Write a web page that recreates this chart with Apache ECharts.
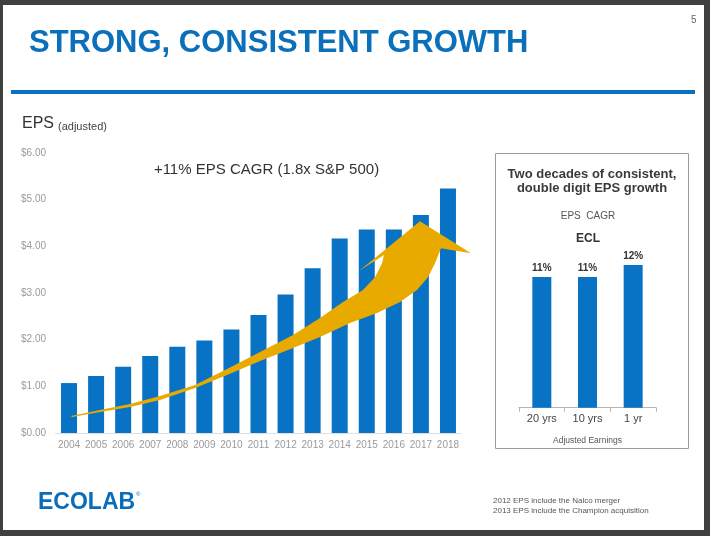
<!DOCTYPE html>
<html>
<head>
<meta charset="utf-8">
<script src="https://cdn.jsdelivr.net/npm/echarts@6/dist/echarts.min.js"></script>
<style>
  html, body { margin: 0; padding: 0; background: #3f4040; }
  #frame { position: absolute; left: 3px; top: 5px; width: 701px; height: 525px; background: #ffffff; }
  #chart { position: absolute; left: 0; top: 0; width: 710px; height: 536px; }
</style>
</head>
<body>
<div id="frame"></div>
<div id="chart"></div>
<script>
// ---- data ----
const years = ['2004','2005','2006','2007','2008','2009','2010','2011','2012','2013','2014','2015','2016','2017','2018'];
const eps = [1.07, 1.22, 1.42, 1.65, 1.85, 1.98, 2.22, 2.53, 2.97, 3.53, 4.17, 4.36, 4.36, 4.67, 5.24];
const epsTicks = [0, 1, 2, 3, 4, 5, 6];
const cagrPeriods = ['20 yrs', '10 yrs', '1 yr'];
const cagrValues = [11, 11, 12];
// decorative growth arrow outline, in (category index, EPS value) space
const arrowOutline = [
  [0.074,0.364],[1.145,0.492],[2.253,0.621],[3.362,0.792],[4.655,1.028],[5.837,1.370],
  [7.056,1.734],[8.275,2.099],[9.272,2.463],[10.122,2.805],[10.861,3.062],[11.304,3.340],
  [11.563,3.640],[11.637,3.812],[10.713,3.469],[12.966,4.540],[14.850,3.854],[13.742,3.961],
  [13.521,3.640],[13.262,3.340],[12.856,3.062],[12.228,2.805],[11.378,2.570],[10.380,2.355],
  [9.272,2.056],[8.275,1.820],[7.056,1.542],[5.837,1.242],[4.655,0.964],[3.362,0.707],
  [2.253,0.557],[1.145,0.450],[0.111,0.343]
];

const BLUE = '#0873C4';
const FONT = '"Liberation Sans", Arial, sans-serif';

const chart = echarts.init(document.getElementById('chart'), null, { renderer: 'canvas' });

const option = {
  backgroundColor: 'transparent',
  textStyle: { fontFamily: FONT },
  animation: false,
  grid: [
    { left: 55.5, right: 248.5, top: 153, bottom: 103 },
    { left: 519, right: 54, top: 265, bottom: 128.3 }
  ],
  xAxis: [
    {
      type: 'category', gridIndex: 0, data: years,
      axisLine: { lineStyle: { color: '#e0e0e0', width: 1 } },
      axisTick: { show: false },
      axisLabel: { color: '#9a9a9a', fontSize: 10, margin: 7, interval: 0, fontFamily: FONT }
    },
    {
      type: 'value', gridIndex: 0, min: -0.5, max: years.length - 0.5, show: false
    },
    {
      type: 'category', gridIndex: 1, data: cagrPeriods,
      axisLine: { lineStyle: { color: '#b5b5b5', width: 1 } },
      axisTick: { show: true, length: 4, lineStyle: { color: '#b5b5b5' } },
      axisLabel: { color: '#444', fontSize: 11, margin: 6, interval: 0, fontFamily: FONT },
      name: 'Adjusted Earnings', nameLocation: 'middle', nameGap: 28,
      nameTextStyle: { color: '#555', fontSize: 8.5, fontFamily: FONT }
    }
  ],
  yAxis: [
    {
      type: 'value', gridIndex: 0, min: epsTicks[0], max: epsTicks[epsTicks.length - 1], interval: 1,
      axisLine: { show: false }, axisTick: { show: false }, splitLine: { show: false },
      axisLabel: { color: '#9a9a9a', fontSize: 10, margin: 9.5, fontFamily: FONT,
        formatter: v => '$' + v.toFixed(2) }
    },
    {
      type: 'value', gridIndex: 1, min: 0, max: 12, show: false
    }
  ],
  series: [
    {
      type: 'bar', xAxisIndex: 0, yAxisIndex: 0, data: eps,
      barWidth: 16, itemStyle: { color: BLUE }, z: 2
    },
    {
      type: 'custom', xAxisIndex: 1, yAxisIndex: 0, data: [0], clip: false, z: 5,
      renderItem: function (params, api) {
        return {
          type: 'polygon',
          shape: { points: arrowOutline.map(p => api.coord(p)) },
          style: { fill: '#E9AA00' }
        };
      }
    },
    {
      type: 'bar', xAxisIndex: 2, yAxisIndex: 1, data: cagrValues,
      barWidth: 19, itemStyle: { color: BLUE },
      label: { show: true, position: 'top', distance: 4, formatter: '{c}%',
        color: '#333', fontSize: 10, fontWeight: 'bold', fontFamily: FONT }
    }
  ],
  graphic: [
    { type: 'text', left: 29, top: 28, style: { text: 'STRONG, CONSISTENT GROWTH', fill: '#0B6FBA',
        font: 'bold 31px ' + FONT } },
    { type: 'text', left: 691, top: 15, style: { text: '5', fill: '#666', font: '10px ' + FONT } },
    { type: 'rect', shape: { x: 11, y: 90, width: 684, height: 4 }, style: { fill: '#0A72C0' } },
    { type: 'text', left: 22, top: 116, style: { text: 'EPS', fill: '#333', font: '16px ' + FONT } },
    { type: 'text', left: 58, top: 121, style: { text: '(adjusted)', fill: '#444', font: '11px ' + FONT } },
    { type: 'text', x: 266.5, y: 170, style: { text: '+11% EPS CAGR (1.8x S&P 500)', fill: '#333',
        font: '15px ' + FONT, align: 'center', verticalAlign: 'middle' } },
    { type: 'rect', shape: { x: 495.5, y: 153.5, width: 193, height: 295 },
      style: { fill: 'none', stroke: '#9c9c9c', lineWidth: 1 } },
    { type: 'text', x: 592, y: 174, style: { text: 'Two decades of consistent,', fill: '#3a3a3a',
        font: 'bold 13px ' + FONT, align: 'center', verticalAlign: 'middle' } },
    { type: 'text', x: 592, y: 188, style: { text: 'double digit EPS growth', fill: '#3a3a3a',
        font: 'bold 13px ' + FONT, align: 'center', verticalAlign: 'middle' } },
    { type: 'text', x: 588, y: 216, style: { text: 'EPS  CAGR', fill: '#555',
        font: '10px ' + FONT, align: 'center', verticalAlign: 'middle' } },
    { type: 'text', x: 588, y: 239, style: { text: 'ECL', fill: '#333',
        font: 'bold 12px ' + FONT, align: 'center', verticalAlign: 'middle' } },
    { type: 'text', x: 38, y: 503, style: { text: 'ECOLAB', fill: '#0A6DBA',
        font: '900 23px ' + FONT, verticalAlign: 'middle' } },
    { type: 'text', x: 136, y: 494, style: { text: '®', fill: '#0A6DBA',
        font: '6px ' + FONT, verticalAlign: 'middle' } },
    { type: 'text', x: 493, y: 501, style: { text: '2012 EPS include the Nalco merger', fill: '#555',
        font: '8px ' + FONT, verticalAlign: 'middle' } },
    { type: 'text', x: 493, y: 511, style: { text: '2013 EPS include the Champion acquisition', fill: '#555',
        font: '8px ' + FONT, verticalAlign: 'middle' } }
  ]
};

chart.setOption(option);
</script>
</body>
</html>
